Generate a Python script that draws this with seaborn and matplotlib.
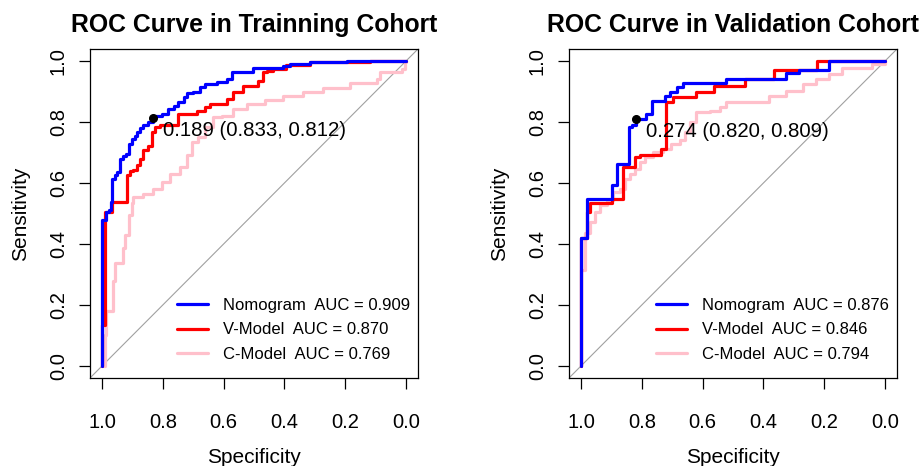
import matplotlib
matplotlib.use("Agg")
import matplotlib.pyplot as plt
import seaborn as sns

# ---------------- data ----------------
model_names = ["Nomogram", "V-Model", "C-Model"]
model_colors = ["#0000FF", "#FF0000", "#FFC0CB"]

titles = ["ROC Curve in Trainning Cohort", "ROC Curve in Validation Cohort"]
auc_train = [0.909, 0.870, 0.769]
auc_valid = [0.876, 0.846, 0.794]

thr_train = [0.189, 0.833, 0.812]   # threshold, specificity, sensitivity
thr_valid = [0.274, 0.820, 0.809]

tick_values = [1.0, 0.8, 0.6, 0.4, 0.2, 0.0]
tick_labels = ["1.0", "0.8", "0.6", "0.4", "0.2", "0.0"]
ytick_values = [0.0, 0.2, 0.4, 0.6, 0.8, 1.0]
ytick_labels = ["0.0", "0.2", "0.4", "0.6", "0.8", "1.0"]

# training cohort curves (specificity, sensitivity)
train_nomo_spec = [1.000, 1.000, 0.987, 0.979, 0.971, 0.967, 0.957, 0.952, 0.941, 0.930, 0.921, 0.910,
                   0.902, 0.891, 0.884, 0.875, 0.864, 0.848, 0.833, 0.826, 0.804, 0.782, 0.765, 0.749,
                   0.732, 0.721, 0.700, 0.678, 0.661, 0.623, 0.590, 0.573, 0.502, 0.404, 0.382, 0.316,
                   0.195, 0.000]
train_nomo_sens = [0.000, 0.478, 0.505, 0.511, 0.538, 0.614, 0.625, 0.636, 0.680, 0.688, 0.696, 0.729,
                   0.745, 0.756, 0.767, 0.780, 0.789, 0.800, 0.812, 0.821, 0.827, 0.843, 0.852, 0.865,
                   0.881, 0.895, 0.898, 0.914, 0.925, 0.932, 0.941, 0.965, 0.977, 0.983, 0.990, 0.996,
                   1.000, 1.000]

train_vmod_spec = [1.000, 1.000, 0.992, 0.968, 0.919, 0.908, 0.897, 0.886, 0.875, 0.864, 0.848, 0.837,
                   0.826, 0.809, 0.749, 0.689, 0.661, 0.645, 0.590, 0.568, 0.535, 0.486, 0.469, 0.458,
                   0.436, 0.393, 0.316, 0.118, 0.000]
train_vmod_sens = [0.000, 0.135, 0.505, 0.538, 0.625, 0.638, 0.642, 0.658, 0.680, 0.707, 0.723, 0.767,
                   0.783, 0.789, 0.827, 0.838, 0.849, 0.859, 0.876, 0.898, 0.919, 0.936, 0.963, 0.968,
                   0.974, 0.987, 0.996, 1.000, 1.000]

train_cmod_spec = [1.000, 0.990, 0.987, 0.965, 0.957, 0.930, 0.924, 0.913, 0.902, 0.897, 0.864, 0.831,
                   0.804, 0.776, 0.743, 0.721, 0.705, 0.683, 0.661, 0.634, 0.606, 0.568, 0.524, 0.464,
                   0.404, 0.338, 0.272, 0.184, 0.096, 0.086, 0.014, 0.003, 0.000]
train_cmod_sens = [0.000, 0.102, 0.179, 0.277, 0.337, 0.386, 0.430, 0.495, 0.533, 0.555, 0.565, 0.582,
                   0.604, 0.631, 0.653, 0.691, 0.734, 0.751, 0.783, 0.816, 0.821, 0.843, 0.859, 0.874,
                   0.887, 0.898, 0.911, 0.930, 0.941, 0.963, 0.974, 0.996, 1.000]

# validation cohort curves
val_nomo_spec = [1.000, 1.000, 0.981, 0.899, 0.883, 0.842, 0.834, 0.820, 0.785, 0.768, 0.725, 0.708,
                 0.686, 0.664, 0.522, 0.326, 0.282, 0.184, 0.000]
val_nomo_sens = [0.000, 0.418, 0.549, 0.593, 0.663, 0.783, 0.789, 0.809, 0.827, 0.870, 0.887, 0.900,
                 0.914, 0.930, 0.943, 0.961, 0.972, 1.000, 1.000]

val_vmod_spec = [1.000, 1.000, 0.981, 0.970, 0.897, 0.861, 0.823, 0.807, 0.736, 0.719, 0.697, 0.621,
                 0.561, 0.462, 0.364, 0.222, 0.000]
val_vmod_sens = [0.000, 0.418, 0.505, 0.536, 0.549, 0.652, 0.685, 0.693, 0.712, 0.865, 0.881, 0.900,
                 0.917, 0.943, 0.972, 1.000, 1.000]

val_cmod_spec = [1.000, 1.000, 0.987, 0.970, 0.954, 0.938, 0.916, 0.894, 0.872, 0.856, 0.839, 0.823,
                 0.807, 0.790, 0.763, 0.730, 0.703, 0.675, 0.659, 0.643, 0.621, 0.577, 0.544, 0.522,
                 0.380, 0.326, 0.271, 0.227, 0.184, 0.140, 0.042, 0.000]
val_cmod_sens = [0.000, 0.315, 0.435, 0.473, 0.505, 0.527, 0.544, 0.571, 0.582, 0.614, 0.631, 0.647,
                 0.669, 0.685, 0.702, 0.712, 0.729, 0.740, 0.767, 0.800, 0.832, 0.838, 0.849, 0.865,
                 0.887, 0.903, 0.925, 0.941, 0.958, 0.979, 0.990, 1.000]

# ---------------- style ----------------
sns.set_theme(style="ticks")
plt.rcParams["font.family"] = ["Liberation Sans", "DejaVu Sans"]
plt.rcParams["text.color"] = "black"
plt.rcParams["axes.labelcolor"] = "black"

fig = plt.figure(figsize=(9.22, 4.66), dpi=100)

panels = [
    dict(rect=[90 / 922, 88 / 466, 328 / 922, 329 / 466], title=titles[0], aucs=auc_train, thr=thr_train,
         curves=[(train_nomo_spec, train_nomo_sens), (train_vmod_spec, train_vmod_sens),
                 (train_cmod_spec, train_cmod_sens)]),
    dict(rect=[569 / 922, 88 / 466, 328 / 922, 329 / 466], title=titles[1], aucs=auc_valid, thr=thr_valid,
         curves=[(val_nomo_spec, val_nomo_sens), (val_vmod_spec, val_vmod_sens),
                 (val_cmod_spec, val_cmod_sens)]),
]

for p in panels:
    ax = fig.add_axes(p["rect"])
    ax.axline((1, 0), (0, 1), color="#A0A0A0", lw=0.8, zorder=1)

    handles = {}
    # draw C-Model first, Nomogram last (on top)
    for i in [2, 1, 0]:
        spec, sens = p["curves"][i]
        sns.lineplot(x=spec, y=sens, ax=ax, color=model_colors[i], lw=2.3, sort=False,
                     estimator=None, drawstyle="steps-post", legend=False, zorder=3)
        handles[i] = ax.lines[-1]

    thr, tsp, tse = p["thr"]
    ax.plot([tsp], [tse], "o", color="black", ms=5.5, zorder=5)
    ax.annotate(f"{thr:.3f} ({tsp:.3f}, {tse:.3f})", xy=(tsp, tse), xytext=(7, -9),
                textcoords="offset points", ha="left", va="center", fontsize=14.7, color="black")

    labels = [f"{model_names[i]}  AUC = {p['aucs'][i]:.3f}" for i in range(3)]
    ax.legend([handles[i] for i in range(3)], labels, loc="center left", bbox_to_anchor=(0.265, 0.146),
              frameon=False, fontsize=12, handlelength=1.86, handletextpad=0.88, labelspacing=0.59,
              borderpad=0, borderaxespad=0, labelcolor="black")

    ax.set_xlim(1.04, -0.04)
    ax.set_ylim(-0.04, 1.04)
    ax.set_xticks(tick_values)
    ax.set_xticklabels(tick_labels)
    ax.set_yticks(ytick_values)
    ax.set_yticklabels(ytick_labels, rotation=90, va="center")
    ax.tick_params(direction="out", length=8, width=0.9, colors="black", labelsize=14.5)
    ax.tick_params(axis="x", pad=17)
    ax.tick_params(axis="y", pad=8)
    for s in ax.spines.values():
        s.set_visible(True)
        s.set_color("black")
        s.set_linewidth(0.9)

    ax.set_xlabel("Specificity", fontsize=15, color="black")
    ax.xaxis.set_label_coords(0.5, -0.213)
    ax.set_ylabel("Sensitivity", fontsize=15, color="black")
    ax.yaxis.set_label_coords(-0.183, 0.5)
    ax.set_title(p["title"], fontsize=17.8, fontweight="bold", pad=12, color="black")

fig.savefig("out.png", dpi=100, facecolor="white")
